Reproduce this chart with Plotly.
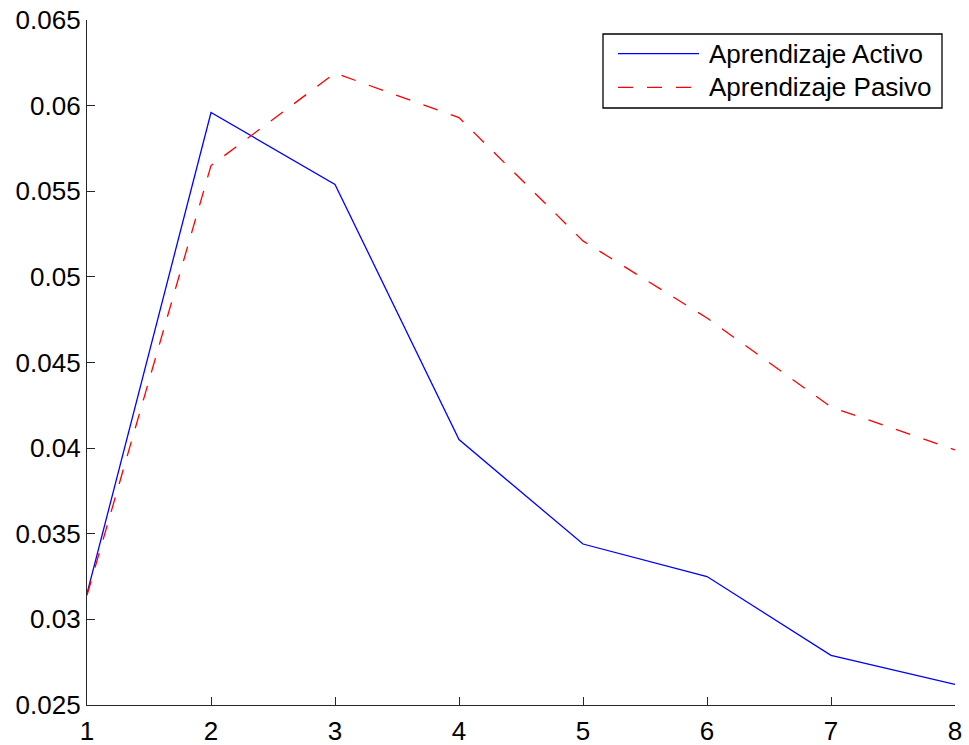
import plotly.graph_objects as go

x_vals = [1, 2, 3, 4, 5, 6, 7, 8]
activo = [0.0315, 0.0596, 0.0554, 0.0405, 0.0344, 0.0325, 0.0279, 0.0262]
pasivo = [0.0314, 0.0565, 0.0619, 0.0593, 0.0521, 0.0476, 0.0424, 0.0399]
series_names = ["Aprendizaje Activo", "Aprendizaje Pasivo"]
y_ticks = [0.025, 0.03, 0.035, 0.04, 0.045, 0.05, 0.055, 0.06, 0.065]
y_tick_text = ["0.025", "0.03", "0.035", "0.04", "0.045", "0.05", "0.055", "0.06", "0.065"]
x_ticks = [1, 2, 3, 4, 5, 6, 7, 8]

FONT = "Liberation Sans, Arial, sans-serif"
W, H = 969, 745
L, R, T, B = 87, 14, 20, 40
PW, PH = W - L - R, H - T - B

def px(xp):
    return (xp - L) / PW

def py(yp):
    return 1 - (yp - T) / PH

colors = ["#0000ff", "#ff0000"]
dashes = ["solid", "15px,14px"]

fig = go.Figure()
for yv, nm, c, d in zip([activo, pasivo], series_names, colors, dashes):
    fig.add_trace(go.Scatter(x=x_vals, y=yv, mode="lines", name=nm,
                             line=dict(color=c, width=1.3, dash=d), showlegend=False))

# legend box drawn manually to match the MATLAB-style legend
shapes = [dict(type="rect", xref="paper", yref="paper",
               x0=px(603), x1=px(942), y0=py(108), y1=py(34),
               line=dict(color="black", width=1.3), fillcolor="white", layer="above")]
annotations = []
for i, (nm, c, d) in enumerate(zip(series_names, colors, dashes)):
    yc = 53.7 + i * 33.6
    shapes.append(dict(type="line", xref="paper", yref="paper",
                       x0=px(618), x1=px(699), y0=py(yc), y1=py(yc),
                       line=dict(color=c, width=1.3, dash=d), layer="above"))
    annotations.append(dict(xref="paper", yref="paper", x=px(707), y=py(yc),
                            xanchor="left", yanchor="middle", text=nm, showarrow=False,
                            font=dict(family=FONT, size=26, color="black")))

fig.update_layout(
    width=W, height=H,
    margin=dict(l=L, r=R, t=T, b=B, autoexpand=False),
    paper_bgcolor="white", plot_bgcolor="white",
    font=dict(family=FONT, size=26, color="black"),
    showlegend=False,
    shapes=shapes, annotations=annotations,
)
fig.update_xaxes(range=[1, 8], tickvals=x_ticks, ticks="inside", ticklen=8,
                 tickcolor="#262626", showline=True, linecolor="#262626", linewidth=1.2,
                 showgrid=False, zeroline=False, automargin=False, ticklabelstandoff=3,
                 tickfont=dict(family=FONT, size=26))
fig.update_yaxes(range=[0.025, 0.065], tickvals=y_ticks, ticktext=y_tick_text,
                 ticks="inside", ticklen=8, tickcolor="#262626",
                 showline=True, linecolor="#262626", linewidth=1.2,
                 showgrid=False, zeroline=False, automargin=False,
                 tickfont=dict(family=FONT, size=26))

fig.write_html("out.html")
